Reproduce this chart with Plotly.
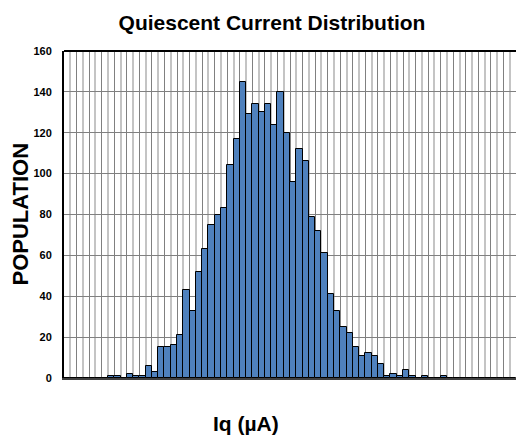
import plotly.graph_objects as go

# histogram bins (index of each Iq bin) and the number of parts in each
bins = list(range(72))
population = [
    0, 0, 0, 0, 0, 0, 0, 1, 1, 0,
    2, 1, 1, 6, 3, 15, 15, 16, 21, 43,
    33, 52, 63, 75, 80, 83, 104, 117, 145, 129,
    134, 130, 134, 124, 140, 120, 96, 112, 106, 79,
    72, 61, 41, 33, 25, 22, 15, 11, 12, 11,
    7, 1, 2, 1, 4, 1, 0, 1, 0, 0,
    1, 0, 0, 0, 0, 0, 0, 0, 0, 0,
    0, 0,
]
y_ticks = [0, 20, 40, 60, 80, 100, 120, 140, 160]

font = 'Liberation Sans, Arial, sans-serif'

fig = go.Figure(
    go.Bar(
        x=bins,
        y=population,
        marker={'color': '#4f81bd', 'line': {'color': '#000000', 'width': 1}},
    )
)

fig.update_layout(
    width=516,
    height=439,
    margin=dict(l=64, r=0, t=51, b=61),
    paper_bgcolor='white',
    plot_bgcolor='white',
    bargap=0,
    showlegend=False,
    font={'family': font, 'color': '#000000'},
    title={
        'text': '<b>Quiescent Current Distribution</b>',
        'x': 272 / 516, 'xanchor': 'center',
        'y': 1 - 23 / 439, 'yanchor': 'middle',
        'font': {'size': 21, 'family': font, 'color': '#000000'},
    },
)

fig.update_xaxes(
    range=[-0.5, 71.5],
    showticklabels=False,
    ticks='',
    tick0=-0.5,
    dtick=2,
    showgrid=True,
    gridcolor='#808080',
    gridwidth=1,
    minor={'tick0': 0.5, 'dtick': 2, 'showgrid': True,
           'gridcolor': '#c4c4c4', 'gridwidth': 2},
    showline=True,
    linecolor='#404040',
    linewidth=2,
    zeroline=False,
)

fig.update_yaxes(
    range=[0, 160],
    tickvals=y_ticks,
    ticktext=[f'<b>{v}</b>' for v in y_ticks],
    tickfont={'size': 11, 'family': font, 'color': '#000000'},
    ticklabelstandoff=8,
    showgrid=True,
    gridcolor='#808080',
    gridwidth=1,
    showline=True,
    linecolor='#000000',
    linewidth=2,
    zeroline=False,
)

# black frame line along the top of the plot
fig.add_shape(type='line', xref='paper', yref='paper',
              x0=0, x1=1, y0=1, y1=1,
              line={'color': '#000000', 'width': 2})

# axis titles
fig.add_annotation(
    text='<b>POPULATION</b>', textangle=-90,
    xref='paper', yref='paper', x=(20 - 64) / 452, y=0.5,
    xanchor='center', yanchor='middle', showarrow=False,
    font={'size': 22, 'family': font, 'color': '#000000'},
)
fig.add_annotation(
    text='<b>Iq (µA)</b>',
    xref='paper', yref='paper', x=(246 - 64) / 452, y=(378 - 423) / 327,
    xanchor='center', yanchor='middle', showarrow=False,
    font={'size': 21, 'family': font, 'color': '#000000'},
)

# drop the page's default body margin so the figure sits at the window's corner
fig.write_html("out.html", config={'displayModeBar': False},
               post_script="document.body.style.margin = '0';")
